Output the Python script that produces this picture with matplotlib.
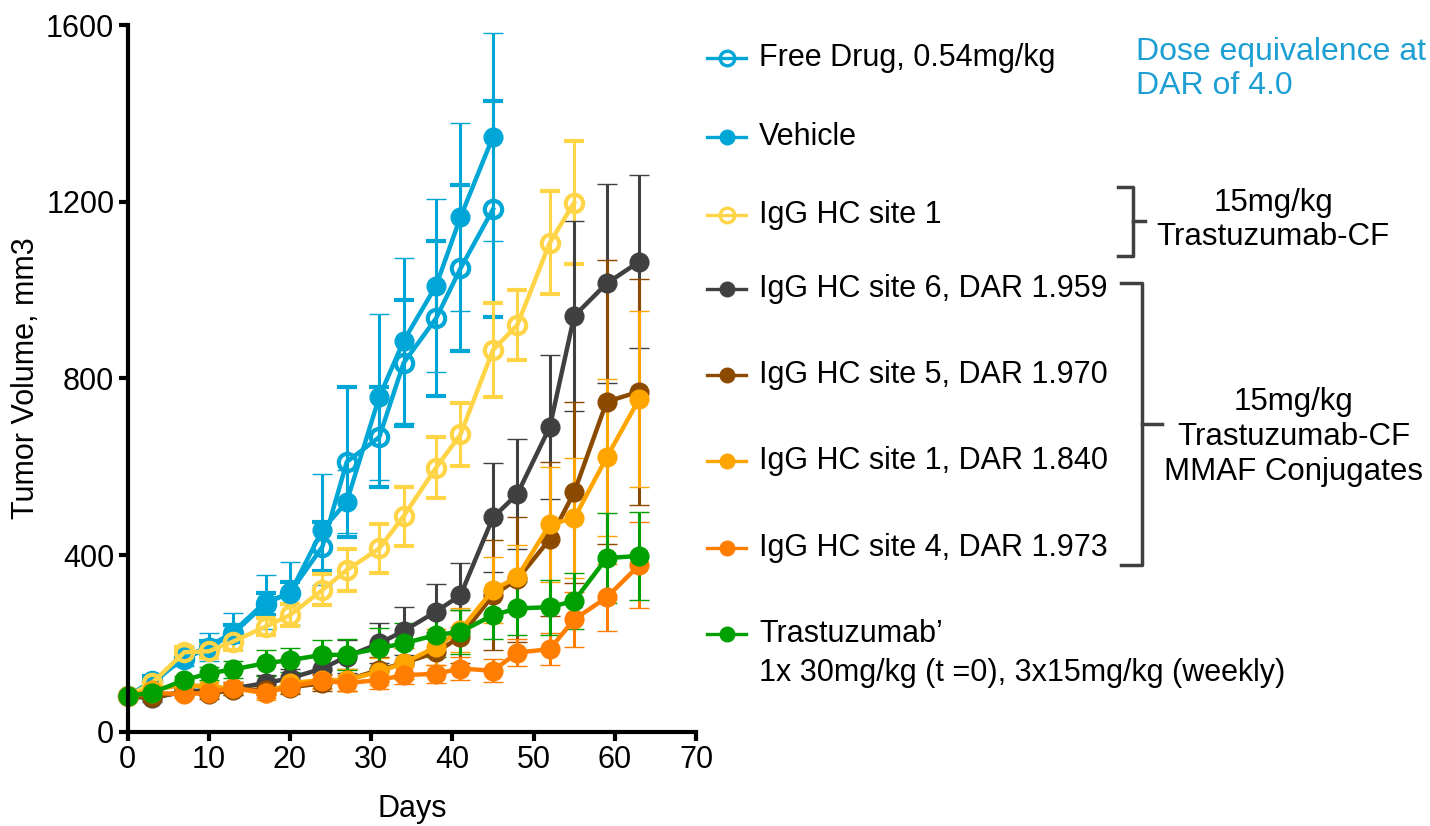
import matplotlib.pyplot as plt

plt.rcParams["font.family"] = ["Liberation Sans", "DejaVu Sans"]
plt.rcParams["font.size"] = 22

# >>>>>>>>>>>>>> tumor growth data (mean +/- SEM)
days = [0, 3, 7, 10, 13, 17, 20, 24, 27, 31, 34, 38, 41, 45, 48, 52, 55, 59, 63]

free_drug = [80, 115, 165, 190, 222, 290, 315, 419, 611, 667, 835, 936, 1049, 1183]
free_drug_err = [5, 10, 15, 15, 20, 25, 25, 55, 170, 114, 143, 175, 188, 245]

vehicle = [80, 108, 170, 192, 226, 294, 313, 457, 521, 758, 885, 1010, 1165, 1347]
vehicle_err = [5, 10, 22, 31, 42, 61, 72, 126, 72, 188, 187, 195, 213, 236]

hc1 = [80, 110, 180, 182, 204, 238, 264, 321, 366, 415, 488, 598, 673, 864, 921, 1107, 1198]
hc1_err = [5, 8, 12, 15, 18, 20, 25, 35, 48, 56, 67, 70, 72, 107, 80, 117, 139]

hc6 = [80, 76, 91, 94, 98, 110, 121, 143, 170, 200, 228, 272, 309, 485, 538, 690, 941, 1015, 1064]
hc6_err = [5, 8, 10, 12, 15, 18, 22, 28, 38, 45, 55, 63, 72, 124, 125, 163, 215, 225, 196]

hc5 = [80, 78, 90, 85, 95, 95, 100, 110, 117, 140, 155, 180, 215, 309, 345, 436, 542, 747, 770]
hc5_err = [5, 6, 8, 10, 12, 12, 15, 18, 25, 28, 35, 45, 60, 125, 142, 175, 205, 321, 256]

hc1_dar = [80, 95, 106, 102, 98, 87, 110, 117, 117, 136, 155, 192, 230, 321, 350, 470, 483, 621, 753]
hc1_dar_err = [5, 8, 10, 10, 12, 15, 18, 20, 25, 30, 35, 40, 50, 75, 73, 130, 136, 177, 200]

hc4 = [80, 88, 85, 88, 100, 88, 102, 115, 110, 117, 128, 131, 143, 138, 179, 187, 254, 304, 377]
hc4_err = [5, 6, 8, 10, 12, 12, 15, 15, 18, 20, 20, 20, 25, 26, 30, 36, 62, 75, 98]

trastuzumab = [81, 88, 117, 132, 141, 155, 162, 174, 174, 189, 200, 219, 226, 264, 279, 282, 296, 393, 398]
trastuzumab_err = [4, 6, 10, 15, 20, 30, 27, 34, 35, 45, 45, 49, 50, 54, 59, 62, 63, 101, 100]

labels = ["Free Drug, 0.54mg/kg", "Vehicle", "IgG HC site 1",
          "IgG HC site 6, DAR 1.959", "IgG HC site 5, DAR 1.970",
          "IgG HC site 1, DAR 1.840", "IgG HC site 4, DAR 1.973", "Trastuzumab\u2019"]
colors = ["#00A6D6", "#00A6D6", "#FFD447", "#404040", "#8C4A00",
          "#FFA500", "#FF7D00", "#00A000"]
hollow = [True, False, True, False, False, False, False, False]
means = [free_drug, vehicle, hc1, hc6, hc5, hc1_dar, hc4, trastuzumab]
errs = [free_drug_err, vehicle_err, hc1_err, hc6_err, hc5_err, hc1_dar_err,
        hc4_err, trastuzumab_err]

# >>>>>>>>>>>>>> plotting
fig = plt.figure(figsize=(14.3, 8.26), dpi=100)
ax = fig.add_axes([0.0892, 0.1142, 0.3975, 0.8555])

for m, e, c, h in zip(means, errs, colors, hollow):
    n = len(m)
    ax.errorbar(days[:n], m, yerr=e, color=c, lw=3.2, elinewidth=2.2,
                capsize=7, capthick=2.4, marker="o",
                ms=12.5 if h else 13.5, mfc="none" if h else c, mec=c,
                mew=3 if h else 1, clip_on=False)

ax.set_xlim(0, 70)
ax.set_ylim(0, 1600)
ax.set_xticks(range(0, 71, 10))
ax.set_yticks(range(0, 1601, 400))
for s in ["top", "right"]:
    ax.spines[s].set_visible(False)
for s in ["left", "bottom"]:
    ax.spines[s].set_linewidth(3)
ax.tick_params(width=3, length=6.5, pad=3)
ax.set_xlabel("Days", labelpad=14)
ax.set_ylabel("Tumor Volume, mm3", labelpad=4)

# key and annotations, drawn in pixel space of the figure
kax = fig.add_axes([0, 0, 1, 1])
kax.set_xlim(0, 1430)
kax.set_ylim(826, 0)
kax.axis("off")

key_y = [58, 137, 215, 289, 375, 461, 548, 634]
for y, lab, c, h in zip(key_y, labels, colors, hollow):
    kax.plot([707, 746], [y, y], color=c, lw=2.4)
    kax.plot([727], [y], marker="o", ms=10.5, mfc="none" if h else c, mec=c,
             mew=2.4 if h else 1, color=c)
    kax.text(759, y, lab, va="center", ha="left")
kax.text(759, 673, "1x 30mg/kg (t =0), 3x15mg/kg (weekly)", va="center", ha="left")

kax.text(1136, 69, "Dose equivalence at\nDAR of 4.0", color="#1E9FD3",
         va="center", ha="left", linespacing=1.15, fontsize=23)

bracket = "#404040"
kax.plot([1118, 1133, 1133, 1118], [187, 187, 256, 256], color=bracket, lw=2.5)
kax.plot([1133, 1145], [221, 221], color=bracket, lw=2.5)
kax.text(1273, 220, "15mg/kg\nTrastuzumab-CF", ha="center", va="center",
         linespacing=1.2, fontsize=22.5)

kax.plot([1121, 1142, 1142, 1121], [283, 283, 565, 565], color=bracket, lw=2.5)
kax.plot([1142, 1162], [424, 424], color=bracket, lw=2.5)
kax.text(1294, 437, "15mg/kg\nTrastuzumab-CF\nMMAF Conjugates", ha="center",
         va="center", linespacing=1.2, fontsize=22.5)

fig.savefig("out.png", dpi=100)
